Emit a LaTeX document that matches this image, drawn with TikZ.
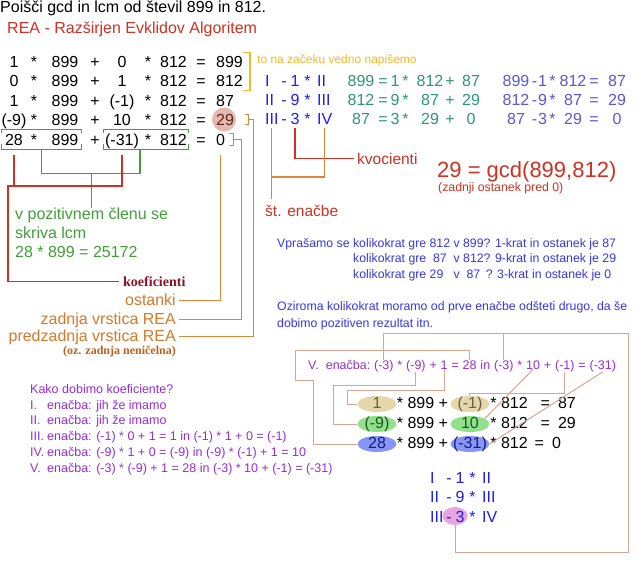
\documentclass[tikz,border=0pt]{standalone}
\usepackage{fontspec}
\setmainfont{Liberation Sans}
\newfontfamily\serifni{Liberation Serif}
\usetikzlibrary{positioning, shapes.geometric, fit}

\definecolor{cRdeca}{RGB}{205,50,35}
\definecolor{cTemnord}{RGB}{140,20,40}
\definecolor{cOranz}{RGB}{220,135,55}
\definecolor{cOranzt}{RGB}{212,122,42}
\definecolor{cRjava}{RGB}{185,100,30}
\definecolor{cZlata}{RGB}{245,185,40}
\definecolor{cZelena}{RGB}{65,160,55}
\definecolor{cModra}{RGB}{30,30,235}
\definecolor{cModra2}{RGB}{55,55,225}
\definecolor{cTeal}{RGB}{45,150,120}
\definecolor{cSlate}{RGB}{95,85,210}
\definecolor{cVijol}{RGB}{150,45,215}
\definecolor{cRoza}{RGB}{215,165,145}
\definecolor{cKrog}{RGB}{230,185,175}
\definecolor{cKrogt}{RGB}{95,40,30}
\definecolor{cTan}{RGB}{226,216,172}
\definecolor{cTant}{RGB}{110,95,60}
\definecolor{cZel}{RGB}{145,225,140}
\definecolor{cZelt}{RGB}{30,85,30}
\definecolor{cMod}{RGB}{135,150,245}
\definecolor{cModt}{RGB}{25,25,125}
\definecolor{cPink}{RGB}{232,165,225}

\newcommand{\fsz}[1]{\fontsize{#1}{#1}\selectfont}

\begin{document}
\begin{tikzpicture}[x=1pt, y=-1pt,
  every node/.style={inner sep=0pt},
  tabela/.style ={anchor=base, font=\fsz{16}, text height=11.5pt, text depth=0pt},
  rimska/.style ={anchor=base, font=\fsz{16}, text=cModra},
  enacba/.style ={anchor=base, font=\fsz{16}, text=cTeal},
  odstej/.style ={anchor=base, font=\fsz{16}, text=cSlate},
  oznaka/.style ={anchor=base east, font=\fsz{16}, text=cOranzt, inner xsep=3pt, text height=11.5pt, text depth=3pt},
  vrstica/.style={font=\fsz{16}, text height=11.5pt, text depth=3.5pt},
  elipsa/.style ={ellipse, minimum width=39pt, minimum height=16pt, inner xsep=-6pt, inner ysep=-6pt,
                  font=\fsz{16}, text height=11.5pt, text depth=3.5pt},
  vtok/.style   ={font=\fsz{12.5}, text=cVijol},
  lzel/.style={draw=cZelena, line width=1.2pt},
  lrde/.style={draw=cRdeca, line width=1.2pt},
  lora/.style={draw=cOranz, line width=1.2pt},
  lzla/.style={draw=cZlata, line width=1.2pt},
  lroz/.style={draw=cRoza, line width=1pt}
]
\path[use as bounding box, fill=white] (0,0) rectangle (640,566);

%% Naslov
\node[anchor=base west, font=\fsz{16}] (naslov) at (0,12) {Poišči gcd in lcm od števil 899 in 812.};
\node[anchor=base west, font=\fsz{16}, text=cRdeca] (rea) at (7,33) {REA - Razširjen Evklidov Algoritem};

%% Tabela REA (krog za 29 najprej, da je pod besedilom)
\node[circle, fill=cKrog, minimum size=24pt] (krog) at (224,119.5) {};
\foreach \r/\a/\b/\c/\cc in {1/1/0/899/black, 2/0/1/812/black, 3/1/{(-1)}/87/black,
                             4/{(-9)}/10/29/cKrogt, 5/28/{(-31)}/0/black}{
  \pgfmathsetmacro\yy{47.5+19.5*\r}
  \node[tabela] (a\r) at (14,\yy)    {\a};
  \node[tabela] (s\r) at (34,\yy)    {*};
  \node[tabela] (n\r) at (65,\yy)    {899};
  \node[tabela] (p\r) at (95,\yy)    {+};
  \node[tabela] (b\r) at (122,\yy)   {\b};
  \node[tabela] (t\r) at (148,\yy)   {*};
  \node[tabela] (m\r) at (173.5,\yy) {812};
  \node[tabela] (q\r) at (201,\yy)   {=};
  \node[tabela, anchor=base west, text=\cc] (f\r) at (216,\yy) {\c};
}

%% zacetni vrstici
\draw[lzla] ([yshift=3pt]f1.north east) -- ++(7,0) |- ([yshift=-4pt]f2.south east);
\node[anchor=base west, font=\fsz{12}, text=cZlata] (vedno) at (257,63) {to na začeku vedno napišemo};

%% Koraki REA
\foreach \i/\a/\k/\b in {1/I/1/II, 2/II/9/III, 3/III/3/IV}{
  \pgfmathsetmacro\yy{67+19*\i}
  \node[rimska, anchor=base west] (ga\i) at (265,\yy)   {\a};
  \node[rimska] (gm\i) at (284,\yy)   {-};
  \node[rimska] (gk\i) at (295,\yy)   {\k};
  \node[rimska] (gz\i) at (307.5,\yy) {*};
  \node[rimska, anchor=base west] (gb\i) at (317,\yy)   {\b};
}
\foreach \i/\l/\k/\m/\o in {1/899/1/812/87, 2/812/9/87/29, 3/87/3/29/0}{
  \pgfmathsetmacro\yy{67+19*\i}
  \node[enacba] (tl\i) at (361,\yy)   {\l};
  \node[enacba] (te\i) at (383,\yy)   {=};
  \node[enacba] (tk\i) at (395,\yy)   {\k};
  \node[enacba] (tz\i) at (405.5,\yy) {*};
  \node[enacba] (tm\i) at (430,\yy)   {\m};
  \node[enacba] (tp\i) at (450,\yy)   {+};
  \node[enacba] (to\i) at (471,\yy)   {\o};
  \node[odstej] (sl\i) at (516,\yy)   {\l};
  \node[odstej] (sm\i) at (534.5,\yy) {-};
  \node[odstej] (sk\i) at (542.5,\yy) {\k};
  \node[odstej] (sz\i) at (552.5,\yy) {*};
  \node[odstej] (sn\i) at (573,\yy)   {\m};
  \node[odstej] (se\i) at (594,\yy)   {=};
  \node[odstej] (so\i) at (617,\yy)   {\o};
}

%% kvocienti, st. enacbe, gcd
\node[anchor=base west, font=\fsz{15.5}, text=cRdeca, inner xsep=3pt] (kvoc) at (354,164) {kvocienti};
\node[anchor=base west, font=\fsz{15.5}, text=cRdeca, outer ysep=6pt] (sten) at (265,216) {št. enačbe};
\draw[lrde] ([yshift=-4pt]gk3.south) |- (kvoc.west);
\draw[lora] ([yshift=-4pt]ga3.south) -- (ga3.south |- sten.north);
\draw[lora] ([yshift=-4pt]gb3.south) |- (ga3.south |- 0,177);

\node[anchor=base west, font=\fsz{22}, text=cRdeca] (gcd) at (437,177) {29 = gcd(899,812)};
\node[anchor=base west, font=\fsz{12.3}, text=cRdeca] (zadost) at (438,191) {(zadnji ostanek pred 0)};

%% lcm in koeficienti
\node[fit=(a5)(n5), inner xsep=3pt, inner ysep=4pt] (lev) {};
\node[fit=(b5)(m5), inner xsep=1.5pt, inner ysep=4pt] (des) {};
\draw[lzel] ([yshift=-4pt]lev.north west) |- (lev.north east) -- ++(0,4);
\draw[lzel] ([yshift=5pt]lev.south west) |- (lev.south east) -- ++(0,-5);
\draw[lzel] ([yshift=-4pt]des.north west) |- (des.north east) -- ++(0,4);
\draw[lzel] ([yshift=5pt]des.south west) |- (des.south east) -- ++(0,-5);
\node[anchor=north west, align=left, font=\fontsize{16}{19}\selectfont, text=cZelena] (lcm) at (15,208)
  {v pozitivnem členu se\\skriva lcm\\28 * 899 = 25172};
\draw[lzel] (lev.south) -- ++(0,24) -| ([xshift=-6pt]des.south);
\draw[lzel] (lcm.north) -- (lcm.north |- 0,173);

\node[anchor=base west, font=\serifni\bfseries\fsz{14}, text=cTemnord, inner xsep=4pt] (koef) at (119,286) {koeficienti};
\draw[lrde] (koef.west) -| (8,186) -| ([yshift=-10pt]b5.south);
\draw[lrde] ([yshift=-10pt]a5.south) -- (a5.south |- 0,186);

%% ostanki
\node[oznaka] (ost)  at (179,305) {ostanki};
\node[oznaka] (zad)  at (179,324) {zadnja vrstica REA};
\node[oznaka] (pred) at (179,341) {predzadnja vrstica REA};
\node[anchor=base east, font=\serifni\bfseries\fsz{12}, text=cRjava] (oz) at (176,354) {(oz. zadnja neničelna)};

\coordinate (k5) at ([xshift=8pt]f5.east);
\coordinate (k4) at ([xshift=12pt]krog.east);
\draw[lora] ([shift={(-4pt,6pt)}]k5) -- ([yshift=6pt]k5) -- ([yshift=-6pt]k5) -- ([shift={(-4pt,-6pt)}]k5);
\draw[lora] ([shift={(-3pt,5pt)}]k4) -- ([yshift=5pt]k4) -- ([yshift=-5pt]k4) -- ([shift={(-3pt,-5pt)}]k4);
\draw[lora] (ost.east) -| ([yshift=-10pt]f5.south);
\draw[lora] (zad.east) -| ([xshift=8pt]k5) -- (k5);
\draw[lora] (pred.east) -| ([xshift=5pt]k4) -- (k4);

%% Razlaga
\node[anchor=base west, font=\fsz{12.3}, text=cModra2] (vpr1) at (277,247)
  {Vprašamo se kolikokrat gre 812 v 899? 1-krat in ostanek je 87};
\node[anchor=base west, font=\fsz{12.3}, text=cModra2] (vpr2) at (353,262)
  {kolikokrat gre \makebox[20.5pt]{87} v 812? 9-krat in ostanek je 29};
\node[anchor=base west, font=\fsz{12.3}, text=cModra2] (vpr3) at (353,278)
  {kolikokrat gre \makebox[20.5pt][l]{29} v \makebox[20.5pt]{87}\,? 3-krat in ostanek je 0};
\node[anchor=north west, align=left, font=\fontsize{12.3}{17}\selectfont, text=cModra2] (ozir) at (277,301)
  {Oziroma kolikokrat moramo od prve enačbe odšteti drugo, da še\\dobimo pozitiven rezultat itn.};

%% V. enacba
\node[vtok, anchor=base west] (v0) at (308,369) {V.\ \ enačba:};
\foreach \t [count=\i] in {{(-3)},*,{(-9)},+,1,=,28,in,{(-3)},*,10,+,{(-1)},=,{(-31)}}{
  \pgfmathtruncatemacro\j{\i-1}
  \node[vtok, base right=3.475pt of v\j] (v\i) {\t};
}

%% spodnje enacbe
\node[elipsa, fill=cTan, text=cTant] (e1) at (377,404) {1};
\node[vrstica, right=0pt of e1] (ra1) {* 899 +};
\node[elipsa, fill=cTan, text=cTant, right=2pt of ra1] (em1) {(-1)};
\node[vrstica, right=0.5pt of em1] (ra2) {* 812\hspace{13pt}=\hspace{8pt}87};

\node[elipsa, fill=cZel, text=cZelt] (em9) at (377,424) {(-9)};
\node[vrstica, right=0pt of em9] (rb1) {* 899 +};
\node[elipsa, fill=cZel, text=cZelt, right=2pt of rb1] (e10) {10};
\node[vrstica, right=0.5pt of e10] (rb2) {* 812\hspace{13pt}=\hspace{8pt}29};

\node[elipsa, fill=cMod, text=cModt] (e28) at (377,444) {28};
\node[vrstica, right=0pt of e28] (rc1) {* 899 +};
\node[elipsa, fill=cMod, text=cModt, right=2pt of rc1] (em31) {(-31)};
\node[vrstica, right=0.5pt of em31] (rc2) {* 812\hspace{7pt}=\hspace{8pt}0};

%% koraki spodaj
\node[ellipse, fill=cPink, minimum width=25pt, minimum height=18pt] (kv3) at (455,516) {};
\foreach \i/\a/\k/\b in {1/I/1/II, 2/II/9/III, 3/III/3/IV}{
  \pgfmathsetmacro\yy{463.5+19.5*\i}
  \node[rimska, anchor=base west] (ha\i) at (430,\yy)   {\a};
  \node[rimska] (hm\i) at (449,\yy)   {-};
  \node[rimska] (hk\i) at (460,\yy)   {\k};
  \node[rimska] (hz\i) at (472.5,\yy) {*};
  \node[rimska, anchor=base west] (hb\i) at (482,\yy)   {\b};
}

%% povezave V. enacbe
\draw[lroz] (v1.north) |- (628,333) -- (628,552) -| (kv3.south);
\draw[lroz] (v9.north) -- (v9.north |- 0,333);
\draw[lroz] (v7.north) |- (295,350) |- (313,380) |- (e28.west);
\draw[lroz] (v3.south) |- (333,385) |- (em9.west);
\draw[lroz] (v5.south) |- (347,390) |- (e1.west);
\draw[lroz] (v13.south) -- (v13.south |- 0,393) -| (em1.north);
\draw[lroz] (v11.south) -- (e10.20);
\draw[lroz] (v15.south) -- (em31.east);

%% Kako dobimo koeficiente
\node[anchor=north west, align=left, font=\fontsize{12.5}{15.8}\selectfont, text=cVijol] (kako) at (30,384)
  {Kako dobimo koeficiente?\\
   \makebox[17pt][l]{I.}enačba: jih že imamo\\
   \makebox[17pt][l]{II.}enačba: jih že imamo\\
   \makebox[17pt][l]{III.}enačba: (-1) * 0 + 1 = 1 in (-1) * 1 + 0 = (-1)\\
   \makebox[17pt][l]{IV.}enačba: (-9) * 1 + 0 = (-9) in (-9) * (-1) + 1 = 10\\
   \makebox[17pt][l]{V.}enačba: (-3) * (-9) + 1 = 28 in (-3) * 10 + (-1) = (-31)};

\end{tikzpicture}
\end{document}
